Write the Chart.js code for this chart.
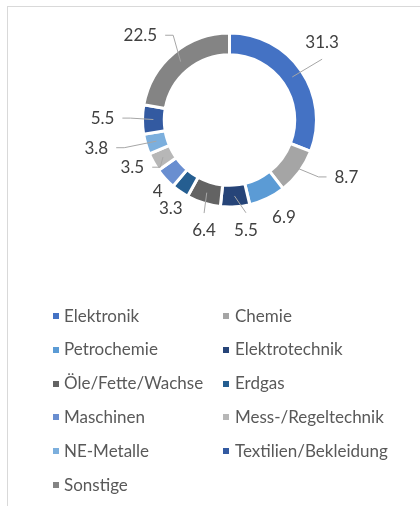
<!DOCTYPE html>
<html><head><meta charset="utf-8">
<script src="https://cdn.jsdelivr.net/npm/chart.js@4"></script>
<style>
html,body{margin:0;padding:0;background:#fff;}
#wrap{position:relative;width:420px;height:506px;overflow:hidden;}
#frame{position:absolute;left:7px;top:6px;width:420px;height:510px;border-top:1px solid #d9d9d9;border-left:1px solid #d9d9d9;}
#c{position:absolute;left:0;top:0;}
#legend{position:absolute;left:0;top:0;width:420px;height:506px;font-family:Lato,sans-serif;font-size:17px;color:#595959;}
.mk{position:absolute;width:6px;height:6px;}
.tx{position:absolute;white-space:nowrap;line-height:20px;}
</style></head>
<body><div id="wrap"><div id="frame"></div><canvas id="c" width="420" height="506"></canvas><div id="legend"></div></div>
<script>
const categories = ['Elektronik','Chemie','Petrochemie','Elektrotechnik','Öle/Fette/Wachse','Erdgas','Maschinen','Mess-/Regeltechnik','NE-Metalle','Textilien/Bekleidung','Sonstige'];
const values = [31.3, 8.7, 6.9, 5.5, 6.4, 3.3, 4, 3.5, 3.8, 5.5, 22.5];
const colors = ['#4472C4','#A5A5A5','#5B9BD5','#264478','#636363','#255E91','#698ED0','#B7B7B7','#7CAFDD','#335AA1','#848484'];
// label placement (style): angular shift in degrees, distance beyond the outer edge in px, leader line on/off
const labelShift = [-5.6, -10.6, -3.6, -4.8, -4.4, -1, -2.2, 3.2, 4.4, 0.5, -6.5];
const labelDist  = [34, 43, 24, 24, 26, 19, 14, 21, 49, 40, 36];
const leader     = [true, true, false, true, true, false, false, true, true, true, true];

const labelPlugin = {
  id: 'outLabels',
  afterDatasetsDraw(chart) {
    const ctx = chart.ctx;
    const meta = chart.getDatasetMeta(0);
    ctx.save();
    ctx.font = '17px Lato';
    ctx.textAlign = 'center';
    ctx.textBaseline = 'alphabetic';
    meta.data.forEach((arc, i) => {
      const p = arc.getProps(['x','y','startAngle','endAngle','outerRadius','innerRadius'], true);
      const mid = (p.startAngle + p.endAngle) / 2;
      const a = mid + labelShift[i] * Math.PI / 180;
      const r = p.outerRadius + labelDist[i];
      const lx = p.x + Math.cos(a) * r, ly = p.y + Math.sin(a) * r;
      const text = String(values[i]);
      const tw = ctx.measureText(text).width;
      if (leader[i]) {
        const rm = (p.outerRadius + p.innerRadius) / 2;
        const sx = p.x + Math.cos(mid) * rm, sy = p.y + Math.sin(mid) * rm;
        const w = tw / 2 + 8, h = 17;
        const dx = sx - lx, dy = sy - ly;
        ctx.strokeStyle = '#a6a6a6';
        ctx.lineWidth = 1;
        ctx.beginPath();
        ctx.moveTo(sx, sy);
        if (Math.abs(dx) / w > Math.abs(dy) / h) {
          const sg = Math.sign(dx);
          const ex = lx + sg * w;
          ctx.lineTo(ex + sg * 8, ly);
          ctx.lineTo(ex, ly);
        } else {
          const sg = Math.sign(dy);
          ctx.lineTo(lx, ly + sg * h);
        }
        ctx.stroke();
      }
      ctx.fillStyle = '#404040';
      ctx.fillText(text, lx, ly + 6);
    });
    ctx.restore();
  }
};

const chart = new Chart(document.getElementById('c'), {
  type: 'doughnut',
  data: { labels: categories, datasets: [{ data: values, backgroundColor: colors, borderColor: '#ffffff', borderWidth: 3, hoverOffset: 0 }] },
  options: {
    responsive: false, animation: false, cutout: '75%',
    layout: { padding: { left: 141, right: 102, top: 31.5, bottom: 297.5 } },
    plugins: { legend: { display: false }, tooltip: { enabled: false } }
  },
  plugins: [labelPlugin]
});

// HTML legend built from the chart's data
const lg = document.getElementById('legend');
const colX = [53, 223], textOff = [11, 12], row0 = 316, rowH = 33.8;
chart.data.labels.forEach((lab, i) => {
  const col = i % 2, row = Math.floor(i / 2);
  const cy = row0 + row * rowH;
  const mk = document.createElement('div');
  mk.className = 'mk';
  mk.style.left = colX[col] + 'px';
  mk.style.top = (cy - 3) + 'px';
  mk.style.background = chart.data.datasets[0].backgroundColor[i];
  lg.appendChild(mk);
  const tx = document.createElement('div');
  tx.className = 'tx';
  tx.style.left = (colX[col] + textOff[col]) + 'px';
  tx.style.top = (cy - 10.5) + 'px';
  tx.textContent = lab;
  lg.appendChild(tx);
});
</script>
</body></html>
